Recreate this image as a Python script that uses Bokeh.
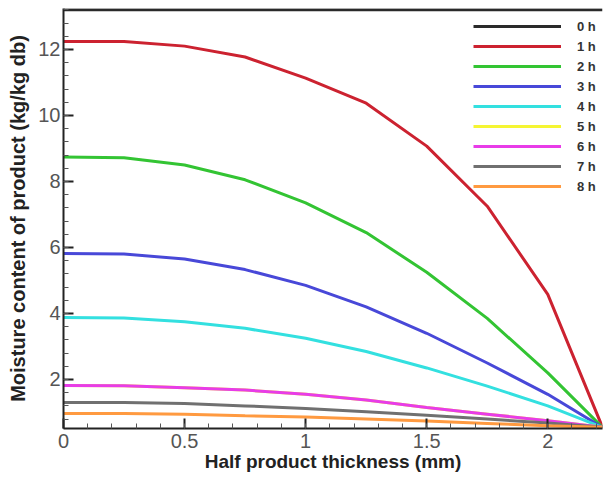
from bokeh.plotting import figure
from bokeh.models import SingleIntervalTicker, Range1d, Legend, LegendItem
from bokeh.embed import file_html
from bokeh.resources import INLINE

# Data
x_mm = [0, 0.25, 0.5, 0.75, 1.0, 1.25, 1.5, 1.75, 2.0, 2.226]
m_0h = [13.2, 13.2, 13.2, 13.2, 13.2, 13.2, 13.2, 13.2, 13.2, 13.2]
m_1h = [12.24, 12.24, 12.1, 11.77, 11.13, 10.37, 9.07, 7.25, 4.58, 0.55]
m_2h = [8.74, 8.72, 8.5, 8.05, 7.35, 6.45, 5.25, 3.85, 2.2, 0.55]
m_3h = [5.82, 5.8, 5.65, 5.33, 4.85, 4.2, 3.4, 2.5, 1.55, 0.55]
m_4h = [3.88, 3.86, 3.75, 3.55, 3.25, 2.85, 2.35, 1.8, 1.2, 0.55]
m_5h = [1.82, 1.81, 1.75, 1.68, 1.55, 1.38, 1.15, 0.95, 0.75, 0.55]
m_6h = [1.82, 1.81, 1.75, 1.68, 1.55, 1.38, 1.15, 0.95, 0.75, 0.55]
m_7h = [1.30, 1.30, 1.27, 1.2, 1.12, 1.02, 0.92, 0.8, 0.68, 0.55]
m_8h = [0.97, 0.97, 0.95, 0.9, 0.86, 0.8, 0.74, 0.67, 0.6, 0.55]

labels = ["0 h", "1 h", "2 h", "3 h", "4 h", "5 h", "6 h", "7 h", "8 h"]
series = [m_0h, m_1h, m_2h, m_3h, m_4h, m_5h, m_6h, m_7h, m_8h]
colors = ["#2a2a2a", "#cc2230", "#33c433", "#4848d8", "#33e0e0",
          "#f5f533", "#e83ce8", "#707070", "#ff9a40"]

p = figure(frame_width=539, frame_height=420, output_backend="svg",
           toolbar_location=None,
           x_range=Range1d(0, 2.226), y_range=Range1d(0.515, 13.24),
           min_border_left=63, min_border_right=4, min_border_top=8,
           min_border_bottom=53)
p.outline_line_color = None
p.xgrid.visible = False
p.ygrid.visible = False
p.background_fill_color = "white"
p.border_fill_color = "white"

items = []
for lab, ys, c in zip(labels, series, colors):
    r = p.line(x_mm, ys, line_color=c, line_width=3)
    items.append(LegendItem(label=lab, renderers=[r]))

legend = Legend(items=items, location=(410, 232))
legend.border_line_color = None
legend.background_fill_alpha = 0
legend.glyph_width = 88
legend.glyph_height = 20
legend.label_height = 20
legend.spacing = 0
legend.padding = 0
legend.margin = 0
legend.label_standoff = 16
legend.label_text_font = "Liberation Sans"
legend.label_text_font_style = "bold"
legend.label_text_font_size = "13px"
legend.label_text_color = "#333333"
p.add_layout(legend)

p.xaxis.ticker = SingleIntervalTicker(interval=0.5, num_minor_ticks=5)
p.yaxis.ticker = SingleIntervalTicker(interval=2, num_minor_ticks=5)

for ax in (p.xaxis, p.yaxis):
    ax.axis_line_width = 2
    ax.axis_line_color = "#222222"
    ax.major_tick_in = 10
    ax.major_tick_out = 0
    ax.minor_tick_in = 5
    ax.minor_tick_out = 0
    ax.major_tick_line_width = 2
    ax.major_tick_line_color = "#222222"
    ax.minor_tick_line_color = "#555555"
    ax.major_label_text_font = "Liberation Sans"
    ax.major_label_text_font_size = "20px"
    ax.major_label_text_color = "#555555"
    ax.axis_label_text_font = "Liberation Sans"
    ax.axis_label_text_font_style = "bold"
    ax.axis_label_text_color = "#222222"

p.xaxis.axis_label = "Half product thickness (mm)"
p.xaxis.axis_label_text_font_size = "19px"
p.xaxis.major_label_standoff = 5
p.xaxis.axis_label_standoff = 0
p.yaxis.axis_label = "Moisture content of product (kg/kg db)"
p.yaxis.axis_label_text_font_size = "20px"
p.yaxis.major_label_standoff = 3
p.yaxis.axis_label_standoff = 6

open("out.html", "w").write(file_html(p, INLINE))
